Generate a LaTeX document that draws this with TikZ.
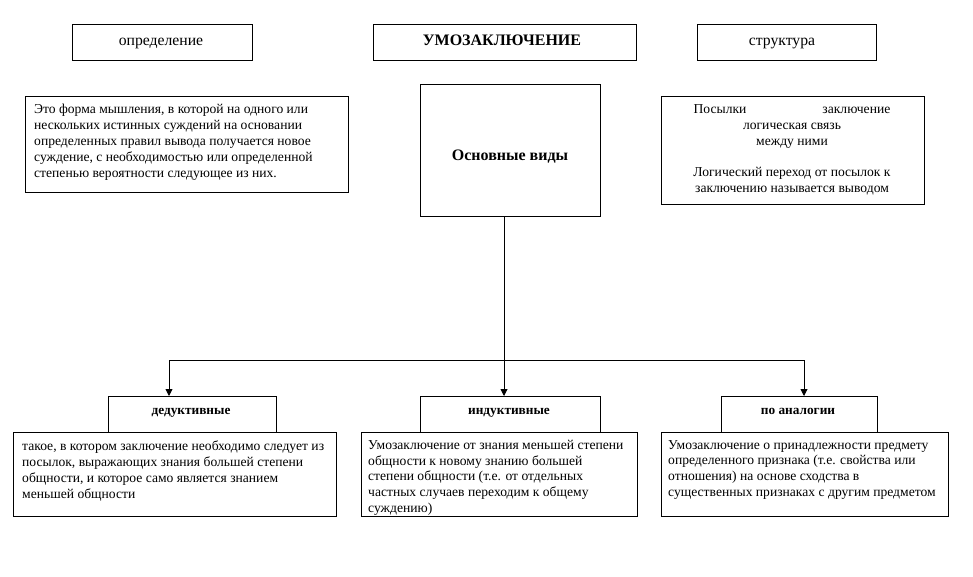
\documentclass[tikz,border=0pt]{standalone}
\usepackage{fontspec}
\setmainfont{Liberation Serif}
\usetikzlibrary{arrows.meta}
\begin{document}
\begin{tikzpicture}[x=1pt,y=-1pt,
  box/.style={draw, line width=0.9pt, inner sep=0pt, anchor=north west},
  txt/.style={inner sep=0pt, anchor=north west, align=left, font=\fontsize{13.6}{16}\selectfont},
  ltxt/.style={txt, font=\fontsize{13.6}{15.7}\selectfont},
  ctxt/.style={inner sep=0pt, align=center, font=\fontsize{13.6}{16}\selectfont},
  lab/.style={inner sep=0pt, anchor=base, font=\fontsize{15.7}{18}\selectfont},
  head/.style={inner sep=0pt, anchor=base, font=\fontsize{13.3}{15}\selectfont\bfseries},
  conn/.style={line width=0.9pt},
  arr/.style={line width=0.9pt, -{Triangle[length=7pt,width=7pt]}}]
\useasboundingbox (0,0) rectangle (973,577);
% top row
\node[box, minimum width=180pt, minimum height=36pt] (opr) at (72,24) {};
\node[lab] (oprt) at (161,46) {определение};
\node[box, minimum width=263pt, minimum height=36pt] (umo) at (373,24) {};
\node[lab, font=\fontsize{16}{18}\selectfont\bfseries] (umot) at (502,45.5) {УМОЗАКЛЮЧЕНИЕ};
\node[box, minimum width=179pt, minimum height=36pt] (str) at (697,24) {};
\node[lab] (strt) at (782,46) {структура};
% second row
\node[box, minimum width=323pt, minimum height=96pt] (def) at (25,96) {};
\node[txt] (deft) at (34,104) {Это форма мышления, в которой на одного или\\
нескольких истинных суждений на основании\\
определенных правил вывода получается новое\\
суждение, с необходимостью или определенной\\
степенью вероятности следующее из них.};
\node[box, minimum width=180pt, minimum height=132pt] (osn) at (420,84) {};
\node[lab, font=\fontsize{16}{18}\selectfont\bfseries] (osnt) at (510,161) {Основные виды};
\node[box, minimum width=263pt, minimum height=108pt] (stb) at (661,96) {};
\node[ctxt, anchor=north] (stt) at (792,104) {Посылки\hspace{76pt}заключение\\
логическая связь\\
между ними\\[15pt]
Логический переход от посылок к\\
заключению называется выводом};
% connectors
\coordinate (hub) at (504,360);
\coordinate (hl) at (169,360);
\coordinate (hr) at (804,360);
% third row headers
\node[box, minimum width=168pt, minimum height=36pt] (ded) at (108,396) {};
\node[head] (dedt) at (191,414) {дедуктивные};
\node[box, minimum width=180pt, minimum height=36pt] (ind) at (420,396) {};
\node[head] (indt) at (509,414) {индуктивные};
\node[box, minimum width=156pt, minimum height=36pt] (ana) at (721,396) {};
\node[head] (anat) at (798,414) {по аналогии};
% lower boxes
\node[box, fill=white, minimum width=323pt, minimum height=84pt] (dedb) at (13,432) {};
\node[ltxt] (dedbt) at (22,441) {такое, в котором заключение необходимо следует из\\
посылок, выражающих знания большей степени\\
общности, и которое само является знанием\\
меньшей общности};
\node[box, fill=white, minimum width=276pt, minimum height=84pt] (indb) at (361,432) {};
\node[ltxt] (indbt) at (368,440) {Умозаключение от знания меньшей степени\\
общности к новому знанию большей\\
степени общности (т.е. от отдельных\\
частных случаев переходим к общему\\
суждению)};
\node[box, fill=white, minimum width=287pt, minimum height=84pt] (anab) at (661,432) {};
\node[ltxt] (anabt) at (668,440) {Умозаключение о принадлежности предмету\\
определенного признака (т.е. свойства или\\
отношения) на основе сходства в\\
существенных признаках с другим предметом};
\draw[conn] (hub |- osn.south) -- (hub);
\draw[conn] (hl) -- (hr);
\draw[arr] (hl) -- (hl |- ded.north);
\draw[arr] (hub) -- (hub |- ind.north);
\draw[arr] (hr) -- (hr |- ana.north);
\end{tikzpicture}
\end{document}
